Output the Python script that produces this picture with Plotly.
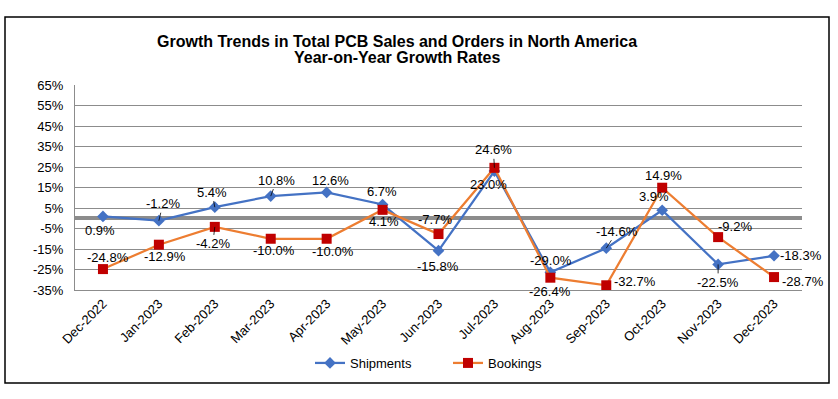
import plotly.graph_objects as go

categories = ["Dec-2022", "Jan-2023", "Feb-2023", "Mar-2023", "Apr-2023", "May-2023", "Jun-2023",
              "Jul-2023", "Aug-2023", "Sep-2023", "Oct-2023", "Nov-2023", "Dec-2023"]
shipments = [0.9, -1.2, 5.4, 10.8, 12.6, 6.7, -15.8, 23.0, -26.4, -14.6, 3.9, -22.5, -18.3]
bookings = [-24.8, -12.9, -4.2, -10.0, -10.0, 4.1, -7.7, 24.6, -29.0, -32.7, 14.9, -9.2, -28.7]
y_ticks = [65, 55, 45, 35, 25, 15, 5, -5, -15, -25, -35]
title_lines = ["Growth Trends in Total PCB Sales and Orders in North America", "Year-on-Year Growth Rates"]

# label offsets in screen pixels (dx, dy down positive) and whether a leader line is drawn
ship_off = [(-3, 14, 0), (4, -17, 1), (-3, -15, 1), (6, -16, 1), (4, -12, 0), (-1, -13, 0), (-1, 16, 0),
            (-6, 13, 0), (0, 19, 0), (11, -17, 1), (-8, -14, 0), (0, 18, 1), (27, 0, 0)]
book_off = [(5, -12, 0), (6, 12, 0), (-2, 17, 1), (3, 12, 0), (6, 13, 0), (1, 12, 0), (-4, -15, 0),
            (-1, -18, 1), (1, -17, 0), (29, -4, 0), (1, -12, 0), (17, -11, 0), (29, 4, 0)]

FONT = "Liberation Sans, Arial, sans-serif"
BLUE = "#4472C4"
ORANGE = "#ED7D31"
RED = "#C00000"
GRID = "#8c8c8c"

fig = go.Figure()
fig.add_trace(go.Scatter(x=categories, y=shipments, name="Shipments", mode="lines+markers",
                         line=dict(color=BLUE, width=2.25),
                         marker=dict(symbol="diamond", size=9, color=BLUE)))
fig.add_trace(go.Scatter(x=categories, y=bookings, name="Bookings", mode="lines+markers",
                         line=dict(color=ORANGE, width=2.25),
                         marker=dict(symbol="square", size=10, color=RED)))

annotations = []
for series, offs in ((shipments, ship_off), (bookings, book_off)):
    for c, v, (dx, dy, arrow) in zip(categories, series, offs):
        txt = f"{v:.1f}%"
        if arrow:
            annotations.append(dict(x=c, y=v, xref="x", yref="y", text=txt, showarrow=True,
                                    ax=dx, ay=dy, arrowhead=0, arrowwidth=0.8, arrowcolor="black",
                                    standoff=0, font=dict(family=FONT, size=13, color="black")))
        else:
            annotations.append(dict(x=c, y=v, xref="x", yref="y", text=txt, showarrow=False,
                                    xshift=dx, yshift=-dy,
                                    font=dict(family=FONT, size=13, color="black")))

for line, cy in zip(title_lines, (41, 57)):
    annotations.append(dict(text=f"<b>{line}</b>", xref="paper", yref="paper",
                            x=(397 - 75) / 727, y=(290 - cy) / 205, xanchor="center", yanchor="middle",
                            showarrow=False, font=dict(family=FONT, size=16, color="black")))

fig.update_layout(
    width=838, height=399,
    margin=dict(l=75, r=36, t=85, b=109),
    paper_bgcolor="white", plot_bgcolor="white",
    font=dict(family=FONT, size=13, color="black"),
    showlegend=True,
    legend=dict(orientation="h", x=(310 - 75) / 727, xanchor="left", y=-0.356, yanchor="middle",
                entrywidth=93, entrywidthmode="pixels",
                font=dict(family=FONT, size=13, color="black"), bgcolor="rgba(0,0,0,0)"),
    annotations=annotations,
    shapes=[dict(type="rect", xref="paper", yref="paper",
                 x0=(5 - 75) / 727, x1=(829 - 75) / 727,
                 y0=(290 - 383) / 205, y1=(290 - 17) / 205,
                 line=dict(color="black", width=1.5), layer="below")],
)
fig.update_xaxes(type="category", range=[-0.5, len(categories) - 0.5], tickangle=-45,
                 showline=True, linecolor=GRID, linewidth=1,
                 showgrid=False, ticks="", tickfont=dict(family=FONT, size=13, color="black"))
fig.update_yaxes(range=[-35, 65], tickvals=y_ticks, ticktext=[f"{t}%" for t in y_ticks],
                 showgrid=True, gridcolor=GRID, gridwidth=1,
                 zeroline=True, zerolinecolor=GRID, zerolinewidth=4,
                 showline=True, linecolor=GRID, linewidth=1, ticks="", ticklabelstandoff=8,
                 tickfont=dict(family=FONT, size=13, color="black"))

fig.write_html("out.html", config={"displayModeBar": False},
               post_script="document.body.style.margin='0px';")
